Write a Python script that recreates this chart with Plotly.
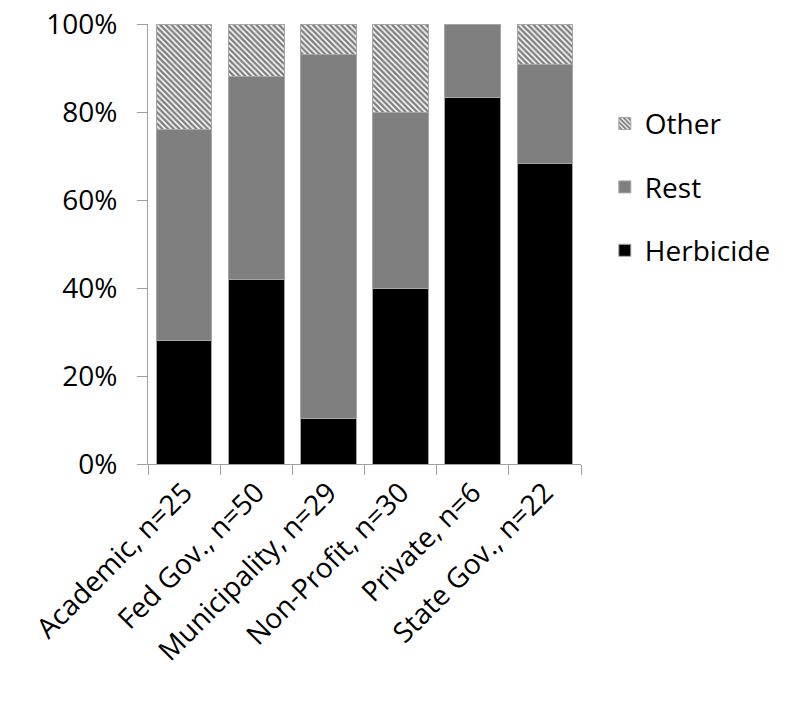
import plotly.graph_objects as go

# Share of responses per organization type (percent)
categories = ["Academic, n=25", "Fed Gov., n=50", "Municipality, n=29",
              "Non-Profit, n=30", "Private, n=6", "State Gov., n=22"]
herbicide = [28.0, 42.0, 10.3, 40.0, 83.3, 68.2]
rest = [48.0, 46.0, 82.8, 40.0, 16.7, 22.7]
other = [24.0, 12.0, 6.9, 20.0, 0.0, 9.1]

FONT = "Open Sans, Noto Sans, sans-serif"
edge = dict(color="#a6a6a6", width=1)

fig = go.Figure()
fig.add_trace(go.Bar(x=categories, y=herbicide, name="Herbicide", legendgroup="c",
                     legendrank=3, marker=dict(color="#000000", line=edge)))
fig.add_trace(go.Bar(x=categories, y=rest, name="Rest", legendgroup="b",
                     legendrank=2, marker=dict(color="#7f7f7f", line=edge)))
fig.add_trace(go.Bar(x=categories, y=other, name="Other", legendgroup="a",
                     legendrank=1,
                     marker=dict(color="#ffffff", line=edge,
                                 pattern=dict(shape="\\", fgcolor="#000000",
                                              bgcolor="#ffffff", size=4,
                                              solidity=0.62))))

fig.update_layout(
    width=789, height=712,
    margin=dict(l=148, r=208, t=24, b=248, autoexpand=False),
    paper_bgcolor="white", plot_bgcolor="white",
    barmode="stack", bargap=0.23,
    font=dict(family=FONT, size=28, color="#000000"),
    showlegend=True,
    legend=dict(x=1.055, y=0.83, xanchor="left", yanchor="top",
                traceorder="grouped", tracegroupgap=24,
                font=dict(family=FONT, size=28), itemwidth=30),
    xaxis=dict(showline=True, linecolor="#a0a0a0", linewidth=1,
               ticks="outside", tickcolor="#a0a0a0", ticklen=10,
               tickson="boundaries", tickangle=-45, automargin=False,
               tickfont=dict(family=FONT, size=28)),
    yaxis=dict(range=[0, 100], dtick=20, ticksuffix="%",
               showline=True, linecolor="#a0a0a0", linewidth=1,
               ticks="outside", tickcolor="#a0a0a0", ticklen=10,
               ticklabelstandoff=14, automargin=False,
               showgrid=False, zeroline=False,
               tickfont=dict(family=FONT, size=28)),
)

fig.write_html("out.html")
